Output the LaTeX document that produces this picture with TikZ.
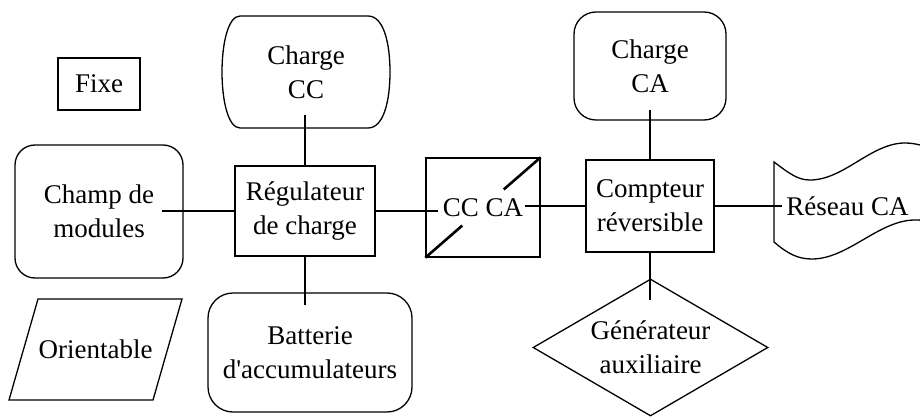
\documentclass[tikz,border=0pt]{standalone}
\usepackage{fontspec}
\setmainfont{Liberation Serif}
\usetikzlibrary{shapes.geometric,calc}
\begin{document}
\begin{tikzpicture}[x=1pt,y=-1pt,
  every node/.style={font=\fontsize{27}{34}\selectfont, align=center, inner sep=0pt},
  link/.style={line width=1.3pt},
  outline/.style={draw, line width=1.3pt},
  thickdiag/.style={line width=2.6pt}]
\useasboundingbox (0,0) rectangle (920,417);
\fill[white] (0,0) rectangle (920,417);

% legend
\node[outline, minimum width=82pt, minimum height=52pt] (fixe) at (99,84) {Fixe};
\node (ori) at (95.5,349.5) {Orientable};
\draw[link] (38,299) -- (182,299) -- (153,400) -- (9,400) -- cycle;

% left part
\node[outline, rounded corners=20pt, minimum width=168pt, minimum height=133pt] (champ) at (99,211.5) {Champ de\\modules};
\node (ccc) at (306,72) {Charge\\CC};
\draw[link] (240,16) -- (368,16) .. controls (384,16) and (390,44) .. (390,72)
  .. controls (390,100) and (384,128) .. (368,128) -- (240,128)
  .. controls (228,128) and (222,100) .. (222,72)
  .. controls (222,44) and (228,16) .. (240,16) -- cycle;
\node[outline, minimum width=140pt, minimum height=90pt] (reg) at (305,211) {Régulateur\\de charge};
\node[outline, rounded corners=25pt, minimum width=204pt, minimum height=119pt] (bat) at (310,352.5) {Batterie\\d\textquotesingle accumulateurs};

% inverter
\node[outline, minimum width=114pt, minimum height=99pt] (inv) at (483,207.5) {CC CA};
\draw[thickdiag] (inv.north east) -- ($(inv.north east)!0.32!(inv.south west)$);
\draw[thickdiag] (inv.south west) -- ($(inv.south west)!0.32!(inv.north east)$);

% right part
\node[outline, rounded corners=22pt, minimum width=152pt, minimum height=108pt] (cca) at (650,66) {Charge\\CA};
\node[outline, minimum width=128pt, minimum height=92pt] (cpt) at (650,206) {Compteur\\réversible};
\node[outline, diamond, aspect=1.7, minimum width=235pt, minimum height=137pt] (gen) at (650.5,347.5) {Générateur\\auxiliaire};
\node (res) at (847.5,206) {Réseau CA};
\begin{scope}
  \clip (0,0) rectangle (920,417);
  \draw[link] (940,224) .. controls (932,221) and (924,220) .. (915,220)
    .. controls (879,220) and (848,259) .. (812,259)
    .. controls (798,259) and (788,254) .. (774,242)
    -- (774,162)
    .. controls (790,174) and (798,180) .. (810,180)
    .. controls (844,180) and (871,143) .. (905,143)
    .. controls (915,143) and (925,146) .. (935,150);
\end{scope}

% connectors
\coordinate (champ-in) at (162,211);
\coordinate (ccc-in) at (305,115);
\coordinate (bat-in) at (305,305);
\coordinate (inv-l) at (438,211);
\coordinate (inv-r) at (525,206);
\coordinate (cca-in) at (650,110);
\coordinate (gen-in) at (650,300);
\coordinate (res-in) at (782,206);
\draw[link] (champ-in) -- (reg.west);
\draw[link] (ccc-in) -- (reg.north);
\draw[link] (reg.south) -- (bat-in);
\draw[link] (reg.east) -- (inv-l);
\draw[link] (inv-r) -- (cpt.west);
\draw[link] (cca-in) -- (cpt.north);
\draw[link] (cpt.south) -- (gen-in);
\draw[link] (cpt.east) -- (res-in);
\end{tikzpicture}
\end{document}
